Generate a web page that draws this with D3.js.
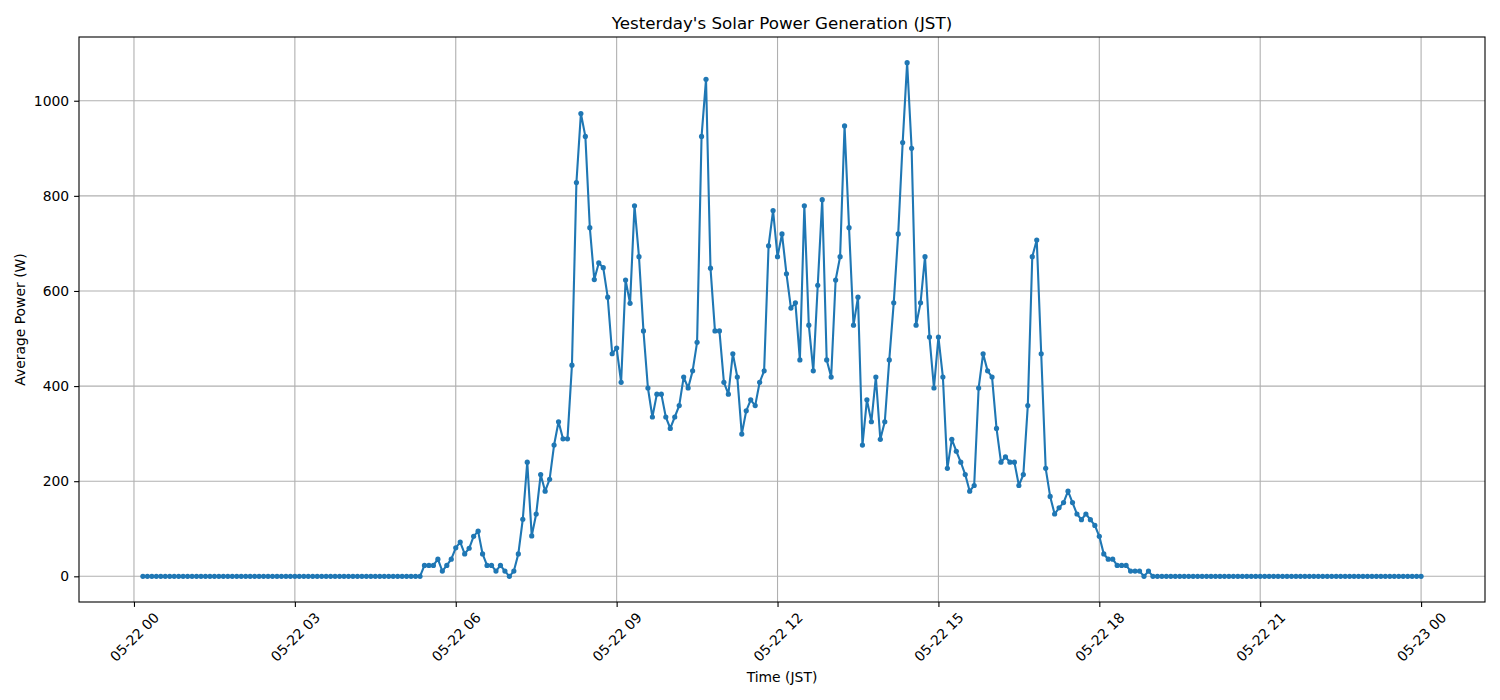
<!DOCTYPE html>
<html>
<head>
<meta charset="utf-8" />
<style>
  html, body {
    margin: 0;
    padding: 0;
    background: #fff;
  }
  svg text {
    font-family: "DejaVu Sans", sans-serif;
    fill: #000;
  }
  .grid line {
    stroke: #b0b0b0;
    stroke-width: 1.1px;
  }
  .spine {
    fill: none;
    stroke: #000;
    stroke-width: 1.1px;
  }
  .series {
    fill: none;
    stroke: #1f77b4;
    stroke-width: 2.1px;
    stroke-linejoin: round;
  }
  .dot {
    fill: #1f77b4;
  }
</style>
</head>
<body>
<div id="vis"></div>

<script src="https://d3js.org/d3.v7.min.js"></script>
<script>
(function() {
  // ** DATA **

  // first sample and sampling step (5 min, JST)
  var startTime = "2024-05-22T00:10:00Z";
  var stepMinutes = 5;

  // average power per 5 min slot (W), from 00:10 to 24:00
  var power = [
    0, 0, 0, 0, 0, 0, 0, 0, 0, 0, 0, 0, 0, 0, 0, 0, 0, 0, 0, 0,
    0, 0, 0, 0, 0, 0, 0, 0, 0, 0, 0, 0, 0, 0, 0, 0, 0, 0, 0, 0,
    0, 0, 0, 0, 0, 0, 0, 0, 0, 0, 0, 0, 0, 0, 0, 0, 0, 0, 0, 0,
    0, 0, 0,
    // 05:25 ->
    23, 23, 23, 36, 11, 23, 36, 60, 72, 47, 59, 84, 95, 47, 23, 23, 11, 23, 11, 0,
    11, 47, 120, 240, 85, 131, 214, 179, 204, 276, 325, 289, 289, 444, 828, 973, 925, 733, 624, 659,
    649, 587, 468, 480, 408, 623, 574, 779, 672, 516, 396, 335, 383, 383, 335, 311, 335, 359, 419, 396,
    432, 492, 925, 1045, 648, 516, 516, 408, 383, 468, 419, 299, 348, 371, 359, 408, 432, 695, 769, 672,
    720, 636, 564, 575, 455, 779, 528, 432, 612, 792, 455, 419, 623, 672, 947, 733, 528, 587, 276, 371,
    325, 419, 288, 325, 455, 575, 720, 912, 1080, 900, 528, 575, 672, 503, 396, 503, 419, 227, 288, 263,
    240, 214, 179, 191, 396, 468, 432, 419, 311, 240, 251, 240, 240, 191, 214, 359, 672, 707, 468, 227,
    168, 131, 144, 155, 179, 155, 131, 119, 131, 119, 107, 84, 47, 36, 36, 23, 23, 23, 11, 11,
    11, 0, 11, 0,
    // 19:05 ->
    0, 0, 0, 0, 0, 0, 0, 0, 0, 0, 0, 0, 0, 0, 0, 0, 0, 0, 0, 0,
    0, 0, 0, 0, 0, 0, 0, 0, 0, 0, 0, 0, 0, 0, 0, 0, 0, 0, 0, 0,
    0, 0, 0, 0, 0, 0, 0, 0, 0, 0, 0, 0, 0, 0, 0, 0, 0, 0, 0, 0
  ];

  var yTicks = [0, 200, 400, 600, 800, 1000];
  var xTicks = ["2024-05-22T00:00:00Z", "2024-05-22T03:00:00Z", "2024-05-22T06:00:00Z",
                "2024-05-22T09:00:00Z", "2024-05-22T12:00:00Z", "2024-05-22T15:00:00Z",
                "2024-05-22T18:00:00Z", "2024-05-22T21:00:00Z", "2024-05-23T00:00:00Z"];

  var title = "Yesterday's Solar Power Generation (JST)";
  var xLabel = "Time (JST)";
  var yLabel = "Average Power (W)";

  // ** SETUP **

  var W = 1500, H = 700;
  var left = 79, right = 1485, top = 37, bottom = 602;

  var t0 = new Date(startTime);
  var data = power.map(function(v, i) {
    return { t: new Date(t0.getTime() + i * stepMinutes * 60000), v: v };
  });

  // matplotlib style 5% margins
  var tExt = d3.extent(data, function(d) { return d.t; });
  var tPad = (tExt[1] - tExt[0]) * 0.05;
  var vExt = d3.extent(data, function(d) { return d.v; });
  var vPad = (vExt[1] - vExt[0]) * 0.05;

  var x = d3.scaleUtc()
    .domain([new Date(+tExt[0] - tPad), new Date(+tExt[1] + tPad)])
    .range([left, right]);

  var y = d3.scaleLinear()
    .domain([vExt[0] - vPad, vExt[1] + vPad])
    .range([bottom, top]);

  var svg = d3.select("#vis").append("svg")
    .attr("width", W).attr("height", H);

  svg.append("rect").attr("width", W).attr("height", H).attr("fill", "#fff");

  // grid
  var grid = svg.append("g").attr("class", "grid");
  grid.selectAll(".gx")
      .data(xTicks.map(function(s) { return new Date(s); }))
    .enter().append("line")
      .attr("x1", function(d) { return x(d); }).attr("x2", function(d) { return x(d); })
      .attr("y1", top).attr("y2", bottom);
  grid.selectAll(".gy")
      .data(yTicks)
    .enter().append("line")
      .attr("x1", left).attr("x2", right)
      .attr("y1", function(d) { return y(d); }).attr("y2", function(d) { return y(d); });

  // axes
  var fmt = d3.utcFormat("%m-%d %H");

  var xAxis = svg.append("g")
    .attr("transform", "translate(0," + bottom + ")")
    .call(d3.axisBottom(x)
      .tickValues(xTicks.map(function(s) { return new Date(s); }))
      .tickFormat(fmt)
      .tickSize(4.9)
      .tickSizeOuter(0));
  xAxis.select(".domain").remove();
  xAxis.selectAll(".tick line").attr("stroke", "#000").attr("stroke-width", 1.1);
  xAxis.selectAll(".tick text")
    .attr("font-size", "13.9px")
    .attr("text-anchor", "middle")
    .attr("dominant-baseline", "central")
    .attr("dy", null)
    .attr("y", null)
    .attr("transform", "translate(0,35) rotate(-45)");

  var yAxis = svg.append("g")
    .attr("transform", "translate(" + left + ",0)")
    .call(d3.axisLeft(y)
      .tickValues(yTicks)
      .tickFormat(d3.format("d"))
      .tickSize(4.9)
      .tickPadding(4.9)
      .tickSizeOuter(0));
  yAxis.select(".domain").remove();
  yAxis.selectAll(".tick line").attr("stroke", "#000").attr("stroke-width", 1.1);
  yAxis.selectAll(".tick text").attr("font-size", "13.9px");

  // series
  var line = d3.line()
    .x(function(d) { return x(d.t); })
    .y(function(d) { return y(d.v); });

  svg.append("path").attr("class", "series").attr("d", line(data));

  svg.append("g").selectAll("circle")
      .data(data)
    .enter().append("circle")
      .attr("class", "dot")
      .attr("cx", function(d) { return x(d.t); })
      .attr("cy", function(d) { return y(d.v); })
      .attr("r", 2.6);

  // frame
  svg.append("rect").attr("class", "spine")
    .attr("x", left).attr("y", top)
    .attr("width", right - left).attr("height", bottom - top);

  // labels
  svg.append("text")
    .attr("x", (left + right) / 2).attr("y", 29)
    .attr("text-anchor", "middle")
    .attr("font-size", "16.7px")
    .text(title);

  svg.append("text")
    .attr("x", (left + right) / 2).attr("y", 682)
    .attr("text-anchor", "middle")
    .attr("font-size", "13.9px")
    .text(xLabel);

  svg.append("text")
    .attr("transform", "translate(25," + (top + bottom) / 2 + ") rotate(-90)")
    .attr("text-anchor", "middle")
    .attr("font-size", "13.9px")
    .text(yLabel);
})();
</script>
</body>
</html>
